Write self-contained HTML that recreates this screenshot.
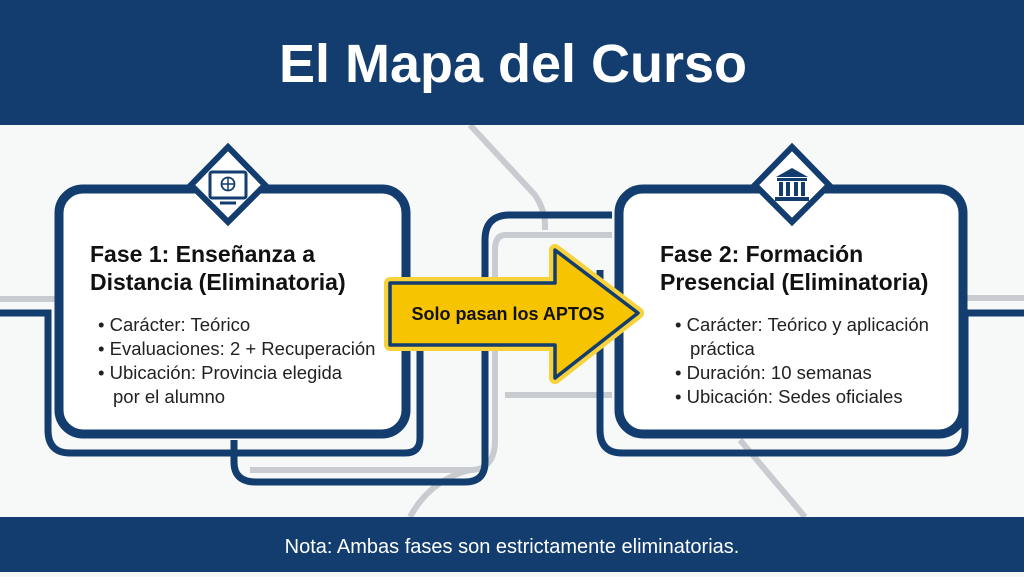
<!DOCTYPE html>
<html><head><meta charset="utf-8"><style>
body{margin:0;width:1024px;height:572px;overflow:hidden;background:#f7f8f8;font-family:"Liberation Sans",sans-serif}
</style></head><body>
<svg width="1024" height="572" viewBox="0 0 1024 572" xmlns="http://www.w3.org/2000/svg">
<rect width="1024" height="572" fill="#f7f8f8"/>
<g fill="none" stroke="#c8cbd0" stroke-width="6">
<path d="M0 299 H55"/>
<path d="M965 298 H1024"/>
<path d="M470 125 L535 195 Q545 210 545 225 V230"/>
<path d="M505 235 H612"/>
<path d="M505 395 H612"/>
<path d="M505 235 Q495 235 495 250 V440 Q495 470 470 470"/>
<path d="M470 470 H250"/>
<path d="M740 440 L805 517"/>
<path d="M470 470 Q430 480 410 517"/>
</g>
<g fill="none" stroke="#123d6e" stroke-width="7">
<path d="M0 313 H48 V430 Q48 453 70 453 H405 Q420 453 420 438 V345"/>
<path d="M234 440 V462 Q234 482 256 482 H465 Q485 482 485 462 V240 Q485 215 510 215 H612"/>
<path d="M600 270 V430 Q600 453 622 453 H945 Q965 453 965 430 V313 H1024"/>
</g>
<rect x="59" y="189" width="347" height="245" rx="24" fill="#fff" stroke="#123d6e" stroke-width="9"/>
<rect x="619" y="189" width="344" height="245" rx="24" fill="#fff" stroke="#123d6e" stroke-width="9"/>
<g fill="#fff" stroke="#123d6e" stroke-width="6">
<path d="M228 147 L265 185 L228 222 L191 185 Z"/>
<path d="M792 147 L829 185 L792 222 L755 185 Z"/>
</g>
<g fill="none" stroke="#123d6e" stroke-width="3">
<rect x="210" y="172" width="36" height="26" rx="2"/>
<circle cx="228" cy="184" r="6.5" stroke-width="1.8"/>
<path d="M221.5 184 H234.5 M228 177.5 V190.5" stroke-width="1.5"/>
</g>
<path d="M220 203 H236" stroke="#123d6e" stroke-width="3"/>
<g fill="#123d6e">
<path d="M776 177 L792 168 L808 177 Z"/>
<rect x="777" y="178" width="30" height="3"/>
<rect x="779" y="182" width="4" height="14"/><rect x="786" y="182" width="4" height="14"/><rect x="794" y="182" width="4" height="14"/><rect x="801" y="182" width="4" height="14"/>
<rect x="775" y="197" width="34" height="4"/>
</g>
<path d="M390 283 H555 V250 L638 313 L555 378 V345 H390 Z" fill="#f6c400" stroke="#f8d23a" stroke-width="12" stroke-linejoin="round"/>
<path d="M390 283 H555 V250 L638 313 L555 378 V345 H390 Z" fill="#f6c400" stroke="#123d6e" stroke-width="3.5" stroke-linejoin="round"/>
<text x="508" y="320" text-anchor="middle" font-size="18" font-weight="bold" fill="#111">Solo pasan los APTOS</text>
<rect x="0" y="0" width="1024" height="125" fill="#123d6e"/>
<text x="513" y="82" text-anchor="middle" font-size="54" font-weight="bold" fill="#fff">El Mapa del Curso</text>
<rect x="0" y="517" width="1024" height="55" fill="#123d6e"/>
<text x="512" y="553" text-anchor="middle" font-size="20" fill="#fff">Nota: Ambas fases son estrictamente eliminatorias.</text>
<g fill="#111" font-size="23" font-weight="bold">
<text x="90" y="262">Fase 1: Enseñanza a</text>
<text x="90" y="290">Distancia (Eliminatoria)</text>
<text x="660" y="262">Fase 2: Formación</text>
<text x="660" y="290">Presencial (Eliminatoria)</text>
</g>
<g fill="#222" font-size="18.5">
<text x="98" y="331">• Carácter: Teórico</text>
<text x="98" y="355">• Evaluaciones: 2 + Recuperación</text>
<text x="98" y="379">• Ubicación: Provincia elegida</text>
<text x="113" y="403">por el alumno</text>
<text x="675" y="331">• Carácter: Teórico y aplicación</text>
<text x="690" y="355">práctica</text>
<text x="675" y="379">• Duración: 10 semanas</text>
<text x="675" y="403">• Ubicación: Sedes oficiales</text>
</g>
</svg>
</body></html>
